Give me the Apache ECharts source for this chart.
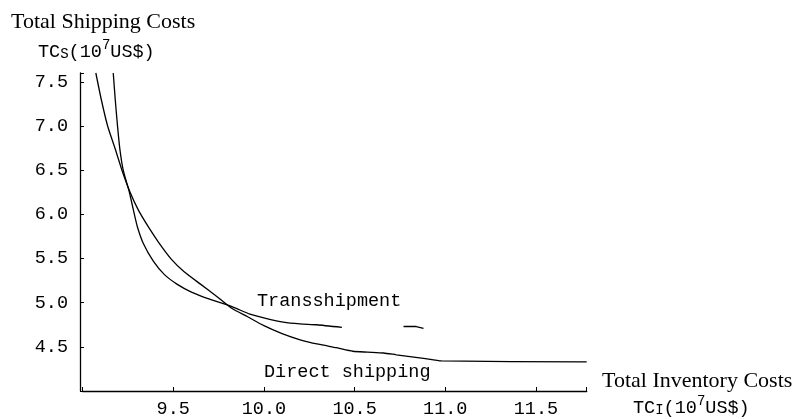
<!DOCTYPE html>
<html>
<head>
<meta charset="utf-8">
<script src="https://cdn.jsdelivr.net/npm/echarts@6/dist/echarts.min.js"></script>
<style>
html,body{margin:0;padding:0;background:#fff;}
#chart{width:793px;height:419px;}
</style>
</head>
<body>
<div id="chart"></div>
<script>
// Data (x: TC_I in 10^7 US$, y: TC_S in 10^7 US$)
var directShipping = [
  [9.073,7.60],[9.103,7.30],[9.138,7.00],[9.180,6.74],[9.217,6.50],[9.262,6.25],
  [9.307,6.05],[9.362,5.86],[9.420,5.68],[9.490,5.49],[9.560,5.35],[9.650,5.21],
  [9.740,5.07],[9.820,4.94],[9.910,4.84],[10.00,4.74],[10.10,4.65],[10.20,4.58],
  [10.30,4.53],[10.40,4.49],[10.49,4.45],[10.57,4.44],[10.66,4.43],[10.73,4.41],
  [10.88,4.37],[10.98,4.34],[11.78,4.33]
];
var transshipment = [
  [9.169,7.60],[9.180,7.30],[9.193,6.99],[9.206,6.73],[9.224,6.50],[9.258,6.25],
  [9.280,6.05],[9.302,5.86],[9.335,5.67],[9.390,5.47],[9.450,5.32],[9.520,5.21],
  [9.600,5.12],[9.700,5.04],[9.830,4.95],[9.923,4.87],[10.015,4.82],[10.107,4.78],
  [10.199,4.76],[10.291,4.75],[10.43,4.72]
];
var transshipmentTail = [[10.77,4.73],[10.84,4.73],[10.88,4.71]];
var xTickLabels = ['9.5','10.0','10.5','11.0','11.5'];
var yTickLabels = ['4.5','5.0','5.5','6.0','6.5','7.0','7.5'];

var chart = echarts.init(document.getElementById('chart'), null, {renderer:'canvas'});
var mono = 'Liberation Mono';
var serif = 'Liberation Serif';
function richSub(){
  return {
    a:{fontFamily:mono,fontSize:18.5,fontWeight:'normal',color:'#000',lineHeight:28,verticalAlign:'middle'},
    b:{fontFamily:mono,fontSize:14,fontWeight:'normal',color:'#000',lineHeight:14,verticalAlign:'middle',padding:[5,0,0,0]},
    c:{fontFamily:mono,fontSize:14,fontWeight:'normal',color:'#000',lineHeight:14,verticalAlign:'top',padding:[0,0,0,0]}
  };
}
var lineStyle = {color:'#000',width:1.3};
chart.setOption({
  animation:false,
  backgroundColor:'#fff',
  title:[
    {text:'Total Shipping Costs',left:6,top:6,textStyle:{fontFamily:serif,fontSize:22,fontWeight:'normal',color:'#000'}},
    {text:'{a|TC}{b|S}{a|(10}{c|7}{a|US$)}',left:33,top:33,textStyle:{fontWeight:'normal',rich:richSub()}},
    {text:'Total Inventory Costs',left:597,top:365,textStyle:{fontFamily:serif,fontSize:22,fontWeight:'normal',color:'#000'}},
    {text:'{a|TC}{b|I}{a|(10}{c|7}{a|US$)}',left:628,top:389,textStyle:{fontWeight:'normal',rich:richSub()}}
  ],
  grid:{left:82.6,right:206.3,top:73,bottom:27.5,containLabel:false},
  xAxis:{
    type:'value',min:9,max:11.78,interval:0.5,
    axisLine:{lineStyle:{color:'#000',width:1.3}},
    axisTick:{inside:true,length:4,lineStyle:{color:'#000'}},
    splitLine:{show:false},
    axisLabel:{
      margin:9,color:'#000',fontFamily:mono,fontSize:18.5,
      formatter:function(v){var s=v.toFixed(1);return xTickLabels.indexOf(s)>=0&&Math.abs(v*2-Math.round(v*2))<1e-6?s:'';}
    }
  },
  yAxis:{
    type:'value',min:4,max:7.6,interval:0.5,offset:2.6,
    axisLine:{lineStyle:{color:'#000',width:1.3}},
    axisTick:{inside:true,length:4,lineStyle:{color:'#000'}},
    splitLine:{show:false},
    axisLabel:{
      margin:12,color:'#000',fontFamily:mono,fontSize:18.5,
      formatter:function(v){var s=v.toFixed(1);return yTickLabels.indexOf(s)>=0&&Math.abs(v*2-Math.round(v*2))<1e-6?s:'';}
    }
  },
  series:[
    {name:'Direct shipping',type:'line',data:directShipping,showSymbol:false,smooth:0.2,lineStyle:lineStyle,clip:true},
    {name:'Transshipment',type:'line',data:transshipment,showSymbol:false,smooth:0.2,lineStyle:lineStyle,clip:true},
    {name:'Transshipment tail',type:'line',data:transshipmentTail,showSymbol:false,lineStyle:lineStyle}
  ],
  graphic:[
    {type:'text',left:257,top:292,style:{text:'Transshipment',font:'18.5px "Liberation Mono"',fill:'#000'}},
    {type:'text',left:264,top:363,style:{text:'Direct shipping',font:'18.5px "Liberation Mono"',fill:'#000'}}
  ]
});
</script>
</body>
</html>
